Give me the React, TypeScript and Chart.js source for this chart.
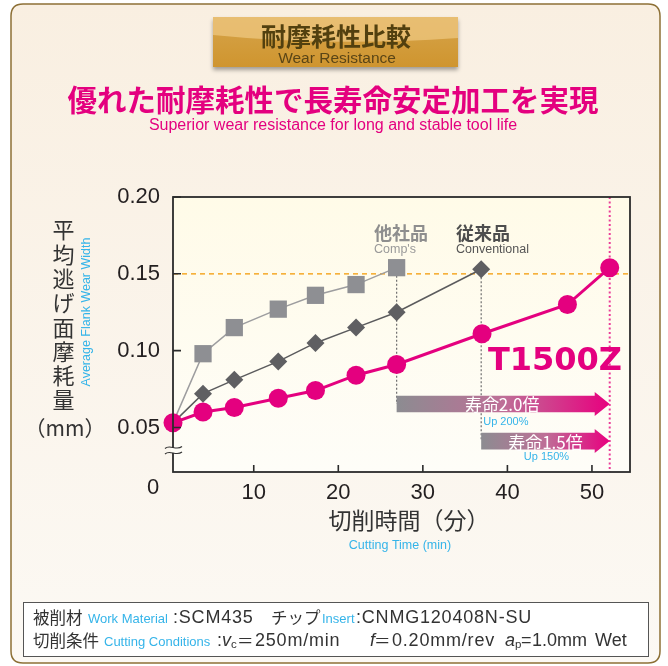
import React, { useEffect, useRef } from "react";
import { Chart, registerables } from "chart.js";

Chart.register(...registerables);

// ---- data ----
const t1500zTime = [0.45, 4.0, 7.7, 12.9, 17.3, 22.1, 26.9, 37.0, 47.1, 52.1];
const t1500zWear = [0.053, 0.060, 0.063, 0.069, 0.074, 0.084, 0.091, 0.111, 0.130, 0.154];
const convTime = [0.45, 4.0, 7.7, 12.9, 17.3, 22.1, 26.9, 36.9];
const convWear = [0.053, 0.072, 0.081, 0.093, 0.105, 0.115, 0.125, 0.153];
const compTime = [0.45, 4.0, 7.7, 12.9, 17.3, 22.1, 26.9];
const compWear = [0.053, 0.098, 0.115, 0.127, 0.136, 0.143, 0.154];
const xTickValues = [10, 20, 30, 40, 50];
const yTickValues = [0.05, 0.1, 0.15, 0.2];
const wearLimit = 0.15;
const lifeLabels = ["寿命2.0倍", "寿命1.5倍"];
const lifeSubLabels = ["Up 200%", "Up 150%"];

const JP = '"Noto Sans CJK JP", sans-serif';
const LAT = '"Liberation Sans", Arial, sans-serif';
const PINK = "#e4007f";
const BLUE = "#35b4e9";

function txt(ctx: CanvasRenderingContext2D, s: string, x: number, y: number, font: string, color: string, align: CanvasTextAlign = "left", base: CanvasTextBaseline = "middle", spacing = 0) {
  ctx.font = font;
  ctx.fillStyle = color;
  ctx.textAlign = align;
  ctx.textBaseline = base;
  (ctx as any).letterSpacing = spacing ? `${spacing}px` : "0px";
  ctx.fillText(s, x, y);
  (ctx as any).letterSpacing = "0px";
}

function roundRect(ctx: CanvasRenderingContext2D, x: number, y: number, w: number, h: number, r: number) {
  ctx.beginPath();
  ctx.moveTo(x + r, y);
  ctx.lineTo(x + w - r, y);
  ctx.quadraticCurveTo(x + w, y, x + w, y + r);
  ctx.lineTo(x + w, y + h - r);
  ctx.quadraticCurveTo(x + w, y + h, x + w - r, y + h);
  ctx.lineTo(x + r, y + h);
  ctx.quadraticCurveTo(x, y + h, x, y + h - r);
  ctx.lineTo(x, y + r);
  ctx.quadraticCurveTo(x, y, x + r, y);
  ctx.closePath();
}

function arrow(ctx: CanvasRenderingContext2D, x0: number, x1: number, yc: number) {
  const bh = 8.3, hh = 12, hl = 15;
  const g = ctx.createLinearGradient(x0, 0, x1, 0);
  g.addColorStop(0, "#8c8c91");
  g.addColorStop(0.5, "#be6f97");
  g.addColorStop(1, "#e8007f");
  ctx.beginPath();
  ctx.moveTo(x0, yc - bh);
  ctx.lineTo(x1 - hl, yc - bh);
  ctx.lineTo(x1 - hl, yc - hh);
  ctx.lineTo(x1, yc);
  ctx.lineTo(x1 - hl, yc + hh);
  ctx.lineTo(x1 - hl, yc + bh);
  ctx.lineTo(x0, yc + bh);
  ctx.closePath();
  ctx.fillStyle = g;
  ctx.fill();
}

const ARROW_LEVELS = [0.0653, 0.0411];

const decor = {
  id: "decor",
  beforeDraw(chart: any) {
    const ctx: CanvasRenderingContext2D = chart.ctx;
    const W = chart.width, H = chart.height;
    ctx.save();
    ctx.fillStyle = "#ffffff";
    ctx.fillRect(0, 0, W, H);
    // frame
    const g = ctx.createLinearGradient(0, 4, 0, 663);
    g.addColorStop(0, "#f9efe1");
    g.addColorStop(1, "#fcf9f4");
    roundRect(ctx, 11, 4, 649, 659, 12);
    ctx.fillStyle = g;
    ctx.fill();
    ctx.lineWidth = 1.5;
    ctx.strokeStyle = "#8d7036";
    ctx.stroke();

    // badge
    ctx.save();
    ctx.shadowColor = "rgba(0,0,0,0.35)";
    ctx.shadowBlur = 4;
    ctx.shadowOffsetY = 3;
    const bg = ctx.createLinearGradient(0, 17, 0, 67);
    bg.addColorStop(0, "#d6a44a");
    bg.addColorStop(1, "#cf952f");
    ctx.fillStyle = bg;
    ctx.fillRect(213, 17, 245, 50);
    ctx.restore();
    ctx.beginPath();
    ctx.moveTo(213, 17);
    ctx.lineTo(458, 17);
    ctx.lineTo(458, 38);
    ctx.quadraticCurveTo(330, 47, 213, 35);
    ctx.closePath();
    ctx.fillStyle = "rgba(236,196,124,0.8)";
    ctx.fill();
    txt(ctx, "耐摩耗性比較", 336, 36, `bold 25px ${JP}`, "#52400f", "center");
    txt(ctx, "Wear Resistance", 337, 59, `15.5px ${LAT}`, "#5a4516", "center");

    // headline
    txt(ctx, "優れた耐摩耗性で長寿命安定加工を実現", 333, 100, `bold 29.5px ${JP}`, PINK, "center");
    txt(ctx, "Superior wear resistance for long and stable tool life", 333, 126, `16px ${LAT}`, PINK, "center");

    // plot background
    const { left, top, right, bottom } = chart.chartArea;
    const pg = ctx.createLinearGradient(0, top, 0, bottom);
    pg.addColorStop(0, "#fffbe8");
    pg.addColorStop(1, "#fefdf8");
    ctx.fillStyle = pg;
    ctx.fillRect(left, top, right - left, bottom - top);
    ctx.restore();
  },
  beforeDatasetsDraw(chart: any) {
    const ctx: CanvasRenderingContext2D = chart.ctx;
    const xs = chart.scales.x, ys = chart.scales.y;
    const { left, top, right, bottom } = chart.chartArea;
    ctx.save();
    // orange dashed limit line
    ctx.strokeStyle = "#f39800";
    ctx.lineWidth = 1.3;
    ctx.setLineDash([5, 4]);
    const yl = ys.getPixelForValue(wearLimit);
    ctx.beginPath();
    ctx.moveTo(left, yl);
    ctx.lineTo(right, yl);
    ctx.stroke();

    const compEnd = compTime[compTime.length - 1];
    const convEnd = convTime[convTime.length - 1];
    const tEnd = t1500zTime[t1500zTime.length - 1];
    const a1 = ys.getPixelForValue(ARROW_LEVELS[0]);
    const a2 = ys.getPixelForValue(ARROW_LEVELS[1]);

    // gray dotted verticals
    ctx.strokeStyle = "#6f6f6f";
    ctx.lineWidth = 1.2;
    ctx.setLineDash([2, 2]);
    ctx.beginPath();
    ctx.moveTo(xs.getPixelForValue(compEnd), ys.getPixelForValue(compWear[compWear.length - 1]));
    ctx.lineTo(xs.getPixelForValue(compEnd), a1);
    ctx.moveTo(xs.getPixelForValue(convEnd), ys.getPixelForValue(convWear[convWear.length - 1]));
    ctx.lineTo(xs.getPixelForValue(convEnd), a2);
    ctx.stroke();

    // pink dotted vertical
    ctx.strokeStyle = "#ea3d98";
    ctx.lineWidth = 2;
    ctx.setLineDash([2, 2.5]);
    ctx.beginPath();
    ctx.moveTo(xs.getPixelForValue(tEnd), top);
    ctx.lineTo(xs.getPixelForValue(tEnd), bottom);
    ctx.stroke();
    ctx.setLineDash([]);

    // arrows
    const x1 = xs.getPixelForValue(tEnd);
    const xc0 = xs.getPixelForValue(compEnd);
    const xv0 = xs.getPixelForValue(convEnd);
    arrow(ctx, xc0, x1, a1);
    arrow(ctx, xv0, x1, a2);
    txt(ctx, lifeLabels[0], (xc0 + x1) / 2 - 1, a1 + 1, `17px ${JP}`, "#ffffff", "center");
    txt(ctx, lifeLabels[1], (xv0 + x1) / 2, a2 + 1, `17px ${JP}`, "#ffffff", "center");
    txt(ctx, lifeSubLabels[0], xv0 + 2, a1 + 18, `11px ${LAT}`, BLUE, "left");
    txt(ctx, lifeSubLabels[1], (xv0 + x1) / 2 + 1, a2 + 16, `11px ${LAT}`, BLUE, "center");
    ctx.restore();
  },
  afterDraw(chart: any) {
    const ctx: CanvasRenderingContext2D = chart.ctx;
    const xs = chart.scales.x, ys = chart.scales.y;
    const { left, top, right, bottom } = chart.chartArea;
    ctx.save();
    // plot box
    ctx.strokeStyle = "#2b2b2b";
    ctx.lineWidth = 1.8;
    ctx.strokeRect(left, top, right - left, bottom - top);
    // tick marks
    ctx.lineWidth = 1.6;
    ctx.beginPath();
    for (const v of xTickValues) {
      const px = xs.getPixelForValue(v);
      ctx.moveTo(px, bottom);
      ctx.lineTo(px, bottom - 7);
    }
    for (const v of yTickValues) {
      const py = ys.getPixelForValue(v);
      ctx.moveTo(left, py);
      ctx.lineTo(left + 8, py);
    }
    ctx.stroke();

    // axis break symbol
    const yb = 450;
    ctx.fillStyle = "#fefdf6";
    ctx.fillRect(left - 2, yb - 2, 4, 5);
    ctx.strokeStyle = "#333";
    ctx.lineWidth = 1.1;
    for (const dy of [-2.5, 3]) {
      ctx.beginPath();
      ctx.moveTo(left - 8, yb + dy + 1);
      ctx.bezierCurveTo(left - 3, yb + dy - 4, left + 3, yb + dy + 4, left + 9, yb + dy - 1);
      ctx.stroke();
    }

    // origin label
    txt(ctx, "0", 153, 488, `22px ${LAT}`, "#231f20", "center");

    // y title
    const ychars = "平均逃げ面摩耗量".split("");
    ychars.forEach((c, i) => txt(ctx, c, 63.5, 230 + i * 24.3, `22px ${JP}`, "#333333", "center"));
    txt(ctx, "（mm）", 65, 428, `21px ${JP}`, "#333333", "center");
    ctx.save();
    ctx.translate(87, 312);
    ctx.rotate(-Math.PI / 2);
    txt(ctx, "Average Flank Wear Width", 0, 0, `12.5px ${LAT}`, BLUE, "center");
    ctx.restore();

    // x title
    txt(ctx, "切削時間（分）", 409, 520, `23px ${JP}`, "#333333", "center");
    txt(ctx, "Cutting Time (min)", 400, 546, `12.5px ${LAT}`, BLUE, "center");

    // series labels
    txt(ctx, "他社品", 374, 233, `bold 18px ${JP}`, "#8e8e8e", "left");
    txt(ctx, "Comp's", 374, 250, `12.5px ${LAT}`, "#9a9a9a", "left");
    txt(ctx, "従来品", 456, 233, `bold 18px ${JP}`, "#4d4d4d", "left");
    txt(ctx, "Conventional", 456, 250, `12.5px ${LAT}`, "#555555", "left");
    txt(ctx, "T1500Z", 555, 362, `bold 32px "DejaVu Sans", sans-serif`, PINK, "center");

    // condition box
    ctx.fillStyle = "#ffffff";
    ctx.fillRect(23.5, 602.5, 625, 54);
    ctx.strokeStyle = "#555";
    ctx.lineWidth = 1;
    ctx.strokeRect(23.5, 602.5, 625, 54);
    const jf = `16.5px ${JP}`, lf = `18px ${LAT}`, bf = `13px ${LAT}`, itf = `italic 18px ${LAT}`, sf = `11.5px ${LAT}`;
    const c = "#333333";
    const ls = 0.8;
    const r1 = 618, r2 = 641;
    txt(ctx, "被削材", 33, r1, jf, c);
    txt(ctx, "Work Material", 88, r1 + 1, bf, BLUE);
    txt(ctx, ":SCM435", 173, r1, lf, c, "left", "middle", ls);
    txt(ctx, "チップ", 271, r1, jf, c);
    txt(ctx, "Insert", 322, r1 + 1, bf, BLUE);
    txt(ctx, ":CNMG120408N-SU", 356, r1, lf, c, "left", "middle", ls);
    txt(ctx, "切削条件", 33, r2, jf, c);
    txt(ctx, "Cutting Conditions", 104, r2 + 1, bf, BLUE);
    txt(ctx, ":", 217, r2, lf, c);
    txt(ctx, "v", 222, r2, itf, c);
    txt(ctx, "c", 231, r2 + 4, sf, c);
    txt(ctx, "＝", 237, r2, jf, c);
    txt(ctx, "250m/min", 255, r2, lf, c, "left", "middle", ls);
    txt(ctx, "f", 370, r2, itf, c);
    txt(ctx, "＝", 374, r2, jf, c);
    txt(ctx, "0.20mm/rev", 392, r2, lf, c, "left", "middle", ls);
    txt(ctx, "a", 505, r2, itf, c);
    txt(ctx, "p", 515, r2 + 4, sf, c);
    txt(ctx, "=", 521, r2, lf, c);
    txt(ctx, "1.0mm", 532, r2, lf, c);
    txt(ctx, "Wet", 595, r2, lf, c);
    ctx.restore();
  },
};

function pts(xs: number[], ys: number[]) {
  return xs.map((x, i) => ({ x, y: ys[i] }));
}

export default function App() {
  const ref = useRef<HTMLCanvasElement | null>(null);
  useEffect(() => {
    document.body.style.margin = "0";
    const canvas = ref.current;
    if (!canvas) return;
    const chart = new Chart(canvas, {
      type: "line",
      data: {
        datasets: [
          {
            label: "T1500Z",
            data: pts(t1500zTime, t1500zWear),
            borderColor: PINK,
            backgroundColor: PINK,
            borderWidth: 3,
            pointRadius: 9.5,
            pointBackgroundColor: PINK,
            pointBorderWidth: 0,
            order: 0,
            clip: false as any,
          },
          {
            label: "Conventional",
            data: pts(convTime, convWear),
            borderColor: "#5b5b5d",
            backgroundColor: "#5f5f62",
            borderWidth: 1.5,
            pointStyle: "rectRot",
            pointRadius: (c: any) => (c.dataIndex === 0 ? 0 : 9),
            pointBackgroundColor: "#5f5f62",
            pointBorderWidth: 0,
            order: 1,
            clip: false as any,
          },
          {
            label: "Comp's",
            data: pts(compTime, compWear),
            borderColor: "#9d9d9f",
            backgroundColor: "#8e8f93",
            borderWidth: 1.5,
            pointStyle: "rect",
            pointRadius: (c: any) => (c.dataIndex === 0 ? 0 : 12.2),
            pointBackgroundColor: "#8e8f93",
            pointBorderWidth: 0,
            order: 2,
            clip: false as any,
          },
        ],
      },
      options: {
        animation: false,
        responsive: false,
        devicePixelRatio: 1,
        layout: { padding: { left: 0, right: 38, top: 197, bottom: 0 } },
        plugins: { legend: { display: false }, tooltip: { enabled: false } },
        scales: {
          x: {
            type: "linear",
            min: 0.45,
            max: 54.5,
            grid: { display: false, drawTicks: false },
            border: { display: false },
            afterBuildTicks: (s: any) => {
              s.ticks = xTickValues.map((v) => ({ value: v }));
            },
            afterFit: (s: any) => {
              s.height = 194;
            },
            ticks: {
              padding: 8,
              autoSkip: false,
              maxRotation: 0,
              color: "#231f20",
              font: { family: "Liberation Sans", size: 22 },
              callback: (v: any) => String(v),
            },
          },
          y: {
            type: "linear",
            min: 0.021,
            max: 0.2,
            grid: { display: false, drawTicks: false },
            border: { display: false },
            afterBuildTicks: (s: any) => {
              s.ticks = yTickValues.map((v) => ({ value: v }));
            },
            afterFit: (s: any) => {
              s.width = 173;
            },
            ticks: {
              padding: 13,
              color: "#231f20",
              font: { family: "Liberation Sans", size: 22 },
              callback: (v: any) => Number(v).toFixed(2),
            },
          },
        },
      },
      plugins: [decor],
    });
    return () => chart.destroy();
  }, []);
  return (
    <div style={{ width: 668, height: 666 }}>
      <canvas ref={ref} width={668} height={666} style={{ display: "block" }} />
    </div>
  );
}
